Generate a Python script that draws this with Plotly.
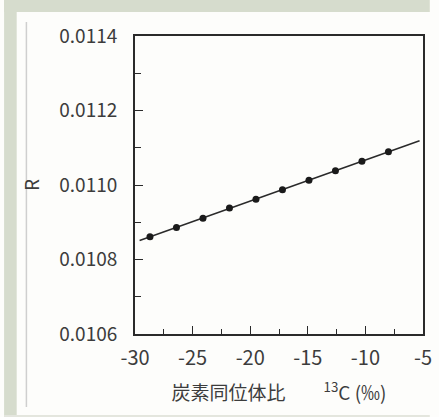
import numpy as np
import plotly.graph_objects as go

# Carbon isotope ratio (per mil) and corresponding 13C/12C ratio R
delta13c = [-28.7, -26.4, -24.1, -21.8, -19.5, -17.2, -14.9, -12.6, -10.3, -8.0]
ratio_r = [0.010861, 0.010886, 0.010911, 0.010938, 0.010962,
           0.010987, 0.011013, 0.011038, 0.011064, 0.011089]

# extent of the straight calibration line
line_delta = [-29.6, -5.3]

x_ticks = [-30, -25, -20, -15, -10, -5]
y_ticks = [0.0106, 0.0108, 0.0110, 0.0112, 0.0114]

slope, intercept = np.polyfit(delta13c, ratio_r, 1)
line_r = [slope * d + intercept for d in line_delta]

W, H = 439, 417
L, R_M, T, B = 135, 7, 36, 83
pw, ph = W - L - R_M, H - T - B


def px_x(p):
    return (p - L) / pw


def px_y(p):
    return 1 - (p - T) / ph


FONT = "Noto Sans CJK JP, Noto Sans, sans-serif"
INK = "#2a2a2a"
TXT = "#3c3c3c"
BACKDROP = "#d6dccd"

fig = go.Figure()
fig.add_trace(go.Scatter(
    x=line_delta, y=line_r, mode="lines",
    line=dict(color=INK, width=1.5), hoverinfo="skip", showlegend=False,
))
fig.add_trace(go.Scatter(
    x=delta13c, y=ratio_r, mode="markers",
    marker=dict(color="#1a1a1a", size=7), showlegend=False,
))

shapes = [
    # greenish backdrop showing along the left, top and bottom edges
    dict(type="rect", xref="paper", yref="paper", layer="below",
         x0=px_x(0), x1=px_x(13), y0=px_y(H), y1=px_y(0),
         fillcolor=BACKDROP, line=dict(width=0)),
    dict(type="rect", xref="paper", yref="paper", layer="below",
         x0=px_x(0), x1=px_x(W), y0=px_y(12), y1=px_y(0),
         fillcolor=BACKDROP, line=dict(width=0)),
    dict(type="rect", xref="paper", yref="paper", layer="below",
         x0=px_x(0), x1=px_x(W), y0=px_y(H), y1=px_y(415),
         fillcolor="#e4e6de", line=dict(width=0)),
    # faint rule along the left side of the sheet
    dict(type="line", xref="paper", yref="paper", layer="below",
         x0=px_x(23), x1=px_x(23), y0=px_y(407), y1=px_y(22),
         line=dict(color="#cfcfcf", width=1.5)),
]

fig.update_layout(
    width=W, height=H,
    margin=dict(l=L, r=R_M, t=T, b=B, pad=0),
    paper_bgcolor="#fdfdfb", plot_bgcolor="#fdfdfb",
    font=dict(family=FONT, color=TXT, size=19),
    shapes=shapes,
)

fig.update_xaxes(
    range=[-30, -5], tickvals=x_ticks, ticktext=[str(v) for v in x_ticks],
    ticks="inside", ticklen=8, tickwidth=1.2, tickcolor=INK,
    minor=dict(dtick=2.5, tick0=-30, ticks="inside", ticklen=5, tickwidth=1, tickcolor=INK),
    showline=True, linecolor=INK, linewidth=1.8, mirror=True,
    showgrid=False, zeroline=False,
    tickfont=dict(size=20, color=TXT), ticklabelstandoff=5,
    ticklabeloverflow="allow",
    title=dict(text="炭素同位体比\u3000\u3000<sup>13</sup>C (‰)",
               font=dict(size=19, color=TXT), standoff=17),
)
fig.update_yaxes(
    range=[0.0106, 0.0114], tickvals=y_ticks, ticktext=[f"{v:.4f}" for v in y_ticks],
    ticks="inside", ticklen=8, tickwidth=1.2, tickcolor=INK,
    minor=dict(dtick=0.0001, tick0=0.0106, ticks="inside", ticklen=6, tickwidth=1, tickcolor=INK),
    showline=True, linecolor=INK, linewidth=1.8, mirror=True,
    showgrid=False, zeroline=False,
    tickfont=dict(size=19, color=TXT), ticklabelstandoff=12,
    title=dict(text="R", font=dict(size=19, color=TXT), standoff=15),
)

fig.write_html("out.html")
